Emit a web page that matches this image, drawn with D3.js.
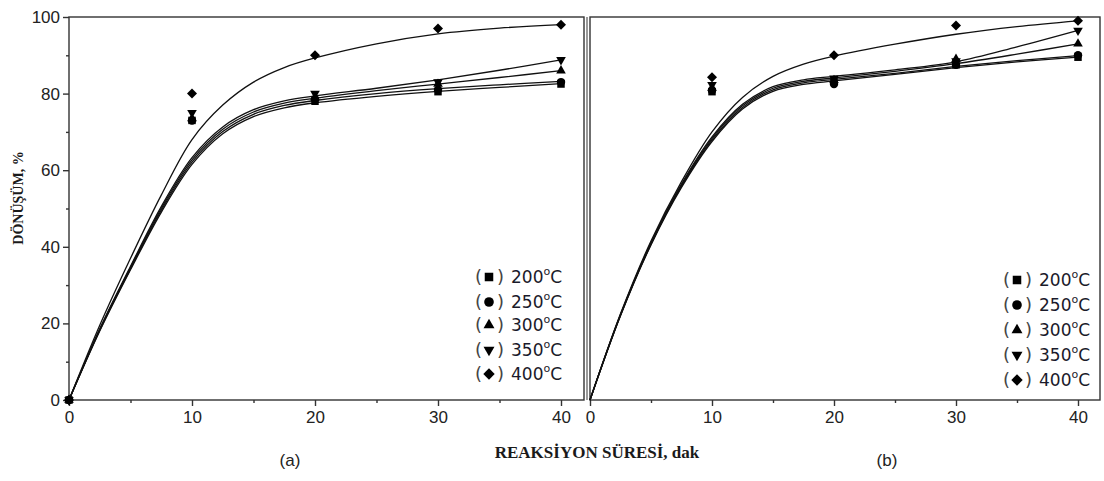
<!DOCTYPE html>
<html>
<head>
<meta charset="utf-8">
<script src="https://cdn.jsdelivr.net/npm/d3@7"></script>
<style>
  body { margin: 0; background: #fff; }
  svg { display: block; }
  .tick text { font-family: 'Liberation Sans', Arial, sans-serif; font-size: 17px; fill: #222; }
  .axis-title { font-family: 'Liberation Serif', 'Times New Roman', serif; font-weight: bold; fill: #1a1a1a; }
  .legend-text { font-family: 'DejaVu Sans', sans-serif; font-size: 17px; fill: #1a1a2a; }
  .legend-paren { font-family: 'DejaVu Sans', sans-serif; font-size: 18px; fill: #444; }
  .panel-tag { font-family: 'Liberation Sans', Arial, sans-serif; font-size: 17px; fill: #222; }
</style>
</head>
<body>
<script>
// measured times (min) and the temperature series
const seriesNames = ['200', '250', '300', '350', '400'];
const timesA = [0, 10, 20, 30, 40];
const timesB = [10, 20, 30, 40];

// panel (a) measured conversion, %
const pointsA200 = [0, 73, 78, 80.5, 82.5];
const pointsA250 = [0, 73, 78.5, 81, 83];
const pointsA300 = [0, 73.5, 79, 82.5, 86];
const pointsA350 = [0, 75, 80, 83, 88.8];
const pointsA400 = [0, 80, 90, 97, 98];

// panel (b) measured conversion, %
const pointsB200 = [80.5, 83.5, 87.5, 89.5];
const pointsB250 = [80.8, 82.5, 87.5, 90];
const pointsB300 = [81.5, 83.5, 89, 93];
const pointsB350 = [82.3, 84, 88.5, 96.5];
const pointsB400 = [84.3, 90, 97.8, 99];

// fitted curves at these times
const curveTimes = [0, 2.5, 5, 7.5, 10, 12.5, 15, 17.5, 20, 25, 30, 35, 40];
const fitA200 = [0, 18, 34, 49, 61.5, 69.5, 74, 76.3, 77.6, 79.3, 80.6, 81.6, 82.6];
const fitA250 = [0, 18.2, 34.3, 49.5, 62.1, 70.1, 74.6, 76.9, 78.2, 80, 81.3, 82.3, 83.2];
const fitA300 = [0, 18.4, 34.6, 50, 62.7, 70.7, 75.2, 77.5, 78.8, 80.8, 82.5, 84.2, 86];
const fitA350 = [0, 18.6, 34.9, 50.5, 63.3, 71.3, 75.8, 78.1, 79.4, 81.4, 83.6, 86.1, 88.8];
const fitA400 = [0, 19.5, 37, 53.5, 68, 77, 83, 86.8, 89.3, 93, 95.6, 97.1, 98];

const fitB200 = [0, 22, 40.5, 55.5, 67.5, 76, 80.6, 82.4, 83.3, 85, 86.8, 88.3, 89.5];
const fitB250 = [0, 22.1, 40.7, 55.8, 67.9, 76.4, 81, 82.8, 83.7, 85.3, 87.1, 88.6, 89.9];
const fitB300 = [0, 22.2, 40.9, 56.1, 68.3, 76.8, 81.4, 83.2, 84.1, 85.8, 87.8, 90.3, 93];
const fitB350 = [0, 22.3, 41.1, 56.4, 68.7, 77.2, 81.8, 83.6, 84.5, 86.2, 88.3, 92.2, 96.5];
const fitB400 = [0, 22.5, 41.5, 57, 70, 79, 84.5, 87.7, 89.8, 92.9, 95.5, 97.5, 99];

const xMajorTicks = [0, 10, 20, 30, 40];
const xMinorTicks = [5, 15, 25, 35];
const yMajorTicks = [0, 20, 40, 60, 80, 100];
const yMinorTicks = [10, 30, 50, 70, 90];

// marker shapes, one per series
const markerFor = {
  '200': { type: d3.symbolSquare, size: 56, rotate: 0 },
  '250': { type: d3.symbolCircle, size: 56, rotate: 0 },
  '300': { type: d3.symbolTriangle, size: 40, rotate: 0 },
  '350': { type: d3.symbolTriangle, size: 40, rotate: 180 },
  '400': { type: d3.symbolSquare, size: 50, rotate: 45 }
};

const width = 1104;
const height = 481;

const svg = d3.select('body').append('svg')
  .attr('width', width)
  .attr('height', height);

const drawMarker = (g, name, x, y, scale = 1) => {
  const m = markerFor[name];
  g.append('path')
    .attr('d', d3.symbol().type(m.type).size(m.size * scale)())
    .attr('transform', `translate(${x},${y}) rotate(${m.rotate})`)
    .attr('fill', '#000');
};

const renderPanel = p => {
  const xScale = d3.scaleLinear().domain([0, 40]).range([p.x0, p.x40]);
  const yScale = d3.scaleLinear().domain([0, 100]).range([p.bottom, p.top]);
  const g = svg.append('g');

  // frame
  g.append('rect')
    .attr('x', p.x0).attr('y', p.top)
    .attr('width', p.right - p.x0).attr('height', p.bottom - p.top)
    .attr('fill', 'none').attr('stroke', '#333').attr('stroke-width', 1.4);
  if (p.outerLeft) {
    g.append('line')
      .attr('x1', p.outerLeft).attr('x2', p.outerLeft)
      .attr('y1', p.top).attr('y2', p.bottom)
      .attr('stroke', '#555').attr('stroke-width', 1.2);
  }

  // x axis, major and minor ticks
  const xAxisMajor = d3.axisBottom(xScale).tickValues(xMajorTicks).tickSize(6).tickPadding(5).tickSizeOuter(0);
  const xAxisMinor = d3.axisBottom(xScale).tickValues(xMinorTicks).tickSize(3).tickFormat('').tickSizeOuter(0);
  [xAxisMajor, xAxisMinor].forEach(ax => {
    const a = g.append('g').attr('transform', `translate(0,${p.bottom})`).call(ax);
    a.select('.domain').remove();
    a.selectAll('line').attr('stroke', '#333').attr('stroke-width', 1.4);
  });

  if (p.yLabels) {
    const yAxisMajor = d3.axisLeft(yScale).tickValues(yMajorTicks).tickSize(6).tickPadding(3);
    const yAxisMinor = d3.axisLeft(yScale).tickValues(yMinorTicks).tickSize(3).tickFormat('');
    [yAxisMajor, yAxisMinor].forEach(ax => {
      const a = g.append('g').attr('transform', `translate(${p.x0},0)`).call(ax);
      a.select('.domain').remove();
      a.selectAll('line').attr('stroke', '#333').attr('stroke-width', 1.4);
    });
  }

  // fitted curves
  const line = d3.line()
    .x((d, i) => xScale(curveTimes[i]))
    .y(d => yScale(d))
    .curve(d3.curveCatmullRom.alpha(0.5));
  p.fits.forEach(f => {
    g.append('path')
      .attr('d', line(f))
      .attr('fill', 'none')
      .attr('stroke', '#111')
      .attr('stroke-width', 1.3);
  });

  // measured points
  p.points.forEach((vals, si) => {
    vals.forEach((v, i) => drawMarker(g, seriesNames[si], xScale(p.times[i]), yScale(v)));
  });

  // legend
  seriesNames.forEach((name, i) => {
    const ly = p.legendY[i];
    g.append('text').attr('class', 'legend-paren')
      .attr('x', p.legendX).attr('y', ly).attr('dy', '0.36em').text('(');
    drawMarker(g, name, p.legendX + 14, ly, 1.3);
    g.append('text').attr('class', 'legend-paren')
      .attr('x', p.legendX + 22).attr('y', ly).attr('dy', '0.36em').text(')');
    const t = g.append('text').attr('class', 'legend-text')
      .attr('x', p.legendX + 36).attr('y', ly).attr('dy', '0.38em');
    t.append('tspan').text(name);
    t.append('tspan').attr('font-size', 11).attr('dy', '-0.75em').text('o');
    t.append('tspan').attr('dy', '0.45em').text('C');
  });

  svg.append('text').attr('class', 'panel-tag')
    .attr('x', p.tagX).attr('y', 466)
    .attr('text-anchor', 'middle')
    .text(p.tag);
};

renderPanel({
  x0: 69, x40: 561, right: 584, top: 17, bottom: 400,
  yLabels: true,
  times: timesA,
  points: [pointsA200, pointsA250, pointsA300, pointsA350, pointsA400],
  fits: [fitA200, fitA250, fitA300, fitA350, fitA400],
  legendX: 475, legendY: [277, 302, 325, 350, 374],
  tag: '(a)', tagX: 290
});

renderPanel({
  x0: 590, x40: 1078, right: 1100, top: 17, bottom: 400,
  outerLeft: 587,
  yLabels: false,
  times: timesB,
  points: [pointsB200, pointsB250, pointsB300, pointsB350, pointsB400],
  fits: [fitB200, fitB250, fitB300, fitB350, fitB400],
  legendX: 1003, legendY: [280, 305, 330, 355, 380],
  tag: '(b)', tagX: 887
});

// axis titles
svg.append('text').attr('class', 'axis-title')
  .attr('transform', 'translate(20,198) rotate(-90)')
  .attr('text-anchor', 'middle')
  .attr('dominant-baseline', 'middle')
  .attr('font-size', 14)
  .text('DÖNÜŞÜM, %');

svg.append('text').attr('class', 'axis-title')
  .attr('x', 597).attr('y', 458)
  .attr('text-anchor', 'middle')
  .attr('font-size', 17)
  .text('REAKSİYON SÜRESİ, dak');
</script>
</body>
</html>
